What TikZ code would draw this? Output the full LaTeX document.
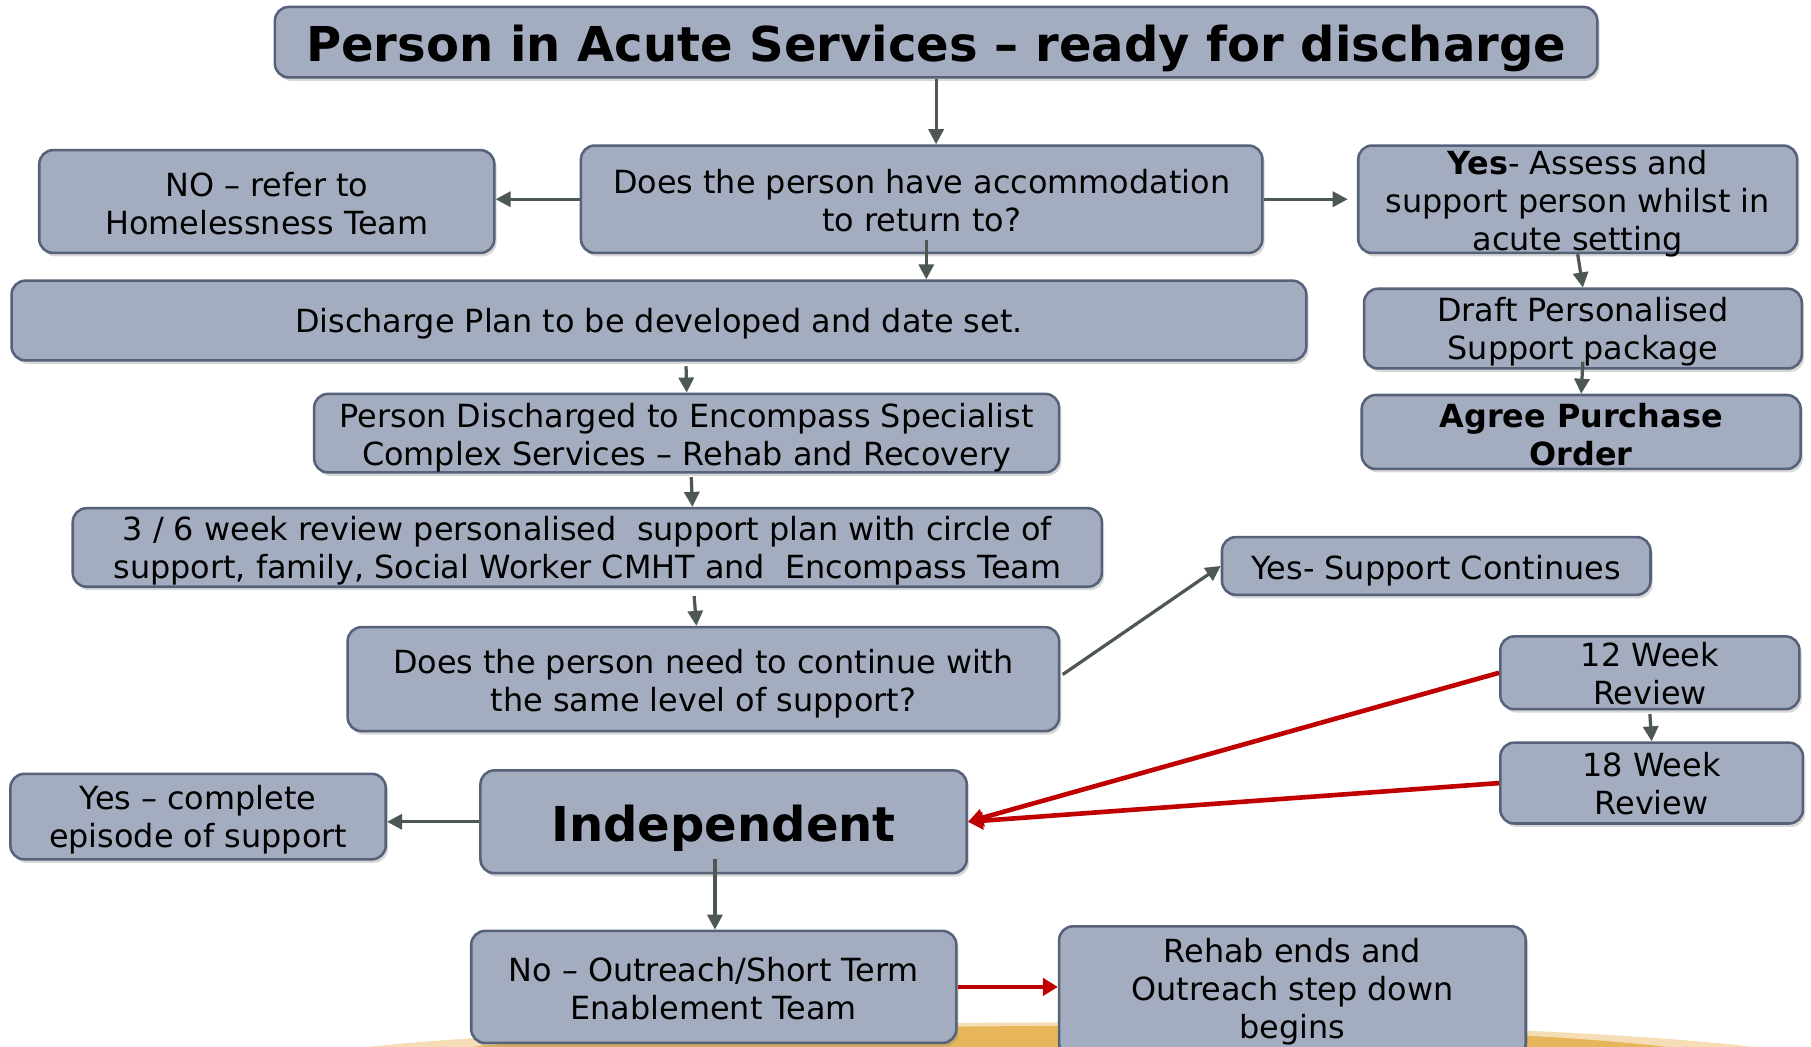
\documentclass[tikz,border=0pt]{standalone}
\usepackage{fontspec}
\setmainfont{DejaVu Sans}
\usetikzlibrary{arrows.meta,shadows,calc}
\definecolor{boxfill}{HTML}{A4ACBF}
\definecolor{boxline}{HTML}{56617A}
\definecolor{arrgray}{HTML}{4D5753}
\definecolor{arrred}{HTML}{C00000}
\definecolor{gold}{HTML}{E8B65A}
\begin{document}
\begin{tikzpicture}[x=0.5pt,y=-0.5pt,
  box/.style={draw=boxline, line width=1.1pt, fill=boxfill, rounded corners=6pt,
    inner sep=0pt,
    drop shadow={shadow xshift=1pt, shadow yshift=-1.5pt, opacity=0.3}},
  txt/.style={align=center, inner sep=0pt, font=\fontsize{13.8}{16.5}\selectfont},
  bigtxt/.style={align=center, inner sep=0pt, font=\fontsize{20.8}{25}\selectfont\bfseries},
  garr/.style={draw=arrgray, line width=1.4pt, -{Triangle[width=6.5pt,length=6.5pt]}},
  rarr/.style={draw=arrred, line width=2pt, -{Triangle[width=7.5pt,length=6.5pt]}}]
\useasboundingbox (0,0) rectangle (1568,906);
\clip (0,0) rectangle (1568,906);
\fill[white] (0,0) rectangle (1568,906);
\fill[gold!45!white] (290,910) .. controls (500,880) and (1300,874) .. (1545,910) -- cycle;
\fill[gold] (380,910) .. controls (560,884) and (1260,878) .. (1470,910) -- cycle;

% boxes
\node[box, minimum width=572.5pt, minimum height=30.5pt] (title) at (810.5,36.5) {};
\node[box, minimum width=197pt, minimum height=44.5pt] (no) at (231,174.5) {};
\node[box, minimum width=295pt, minimum height=46.5pt] (q1) at (798,172.5) {};
\node[box, minimum width=190pt, minimum height=46.5pt] (yes) at (1366,172.5) {};
\node[box, minimum width=560.5pt, minimum height=34.5pt] (dis) at (570.5,277.5) {};
\node[box, minimum width=189.5pt, minimum height=34.5pt] (draft) at (1370.5,284.5) {};
\node[box, minimum width=190pt, minimum height=32pt] (agree) at (1369,374) {};
\node[box, minimum width=322.5pt, minimum height=34pt] (pd) at (594.5,375) {};
\node[box, minimum width=445.5pt, minimum height=34pt] (w36) at (508.5,474) {};
\node[box, minimum width=185.5pt, minimum height=25pt] (ysc) at (1243.5,490) {};
\node[box, minimum width=308pt, minimum height=45pt] (q2) at (609,588) {};
\node[box, minimum width=129.5pt, minimum height=31.5pt] (w12) at (1428.5,582.5) {};
\node[box, minimum width=131pt, minimum height=35pt] (w18) at (1430,678) {};
\node[box, minimum width=162.5pt, minimum height=37pt] (yc) at (171.5,707) {};
\node[box, minimum width=210.5pt, minimum height=44.5pt] (ind) at (626.5,711.5) {};
\node[box, minimum width=210pt, minimum height=48.5pt] (no2) at (618,854.5) {};
\node[box, minimum width=202pt, minimum height=56.5pt] (rehab) at (1119,858.5) {};

% texts
\node[bigtxt] (title-t) at ([yshift=-2.5pt]title.center) {Person in Acute Services – ready for discharge};
\node[txt] (no-t) at ([yshift=-0.75pt]no.center) {NO – refer to\\Homelessness Team};
\node[txt] (q1-t) at ([yshift=-0.5pt]q1.center) {Does the person have accommodation\\to return to?};
\node[txt] (yes-t) at ([yshift=-2pt]yes.center) {\textbf{Yes}- Assess and\\support person whilst in\\acute setting};
\node[txt] (dis-t) at ([yshift=-1.5pt]dis.center) {Discharge Plan to be developed and date set.};
\node[txt] (draft-t) at ([yshift=-1.5pt]draft.center) {Draft Personalised\\Support package};
\node[txt, font=\fontsize{13.8}{16.5}\selectfont\bfseries] (agree-t) at ([yshift=-1pt]agree.center) {Agree Purchase\\Order};
\node[txt] (pd-t) at ([yshift=-2pt]pd.center) {Person Discharged to Encompass Specialist\\Complex Services – Rehab and Recovery};
\node[txt] (w36-t) at ([yshift=-1.5pt]w36.center) {3 / 6 week review personalised\ \ support plan with circle of\\support, family, Social Worker CMHT and\ \ Encompass Team};
\node[txt] (ysc-t) at ([yshift=-2pt]ysc.center) {Yes- Support Continues};
\node[txt] (q2-t) at ([yshift=-2pt]q2.center) {Does the person need to continue with\\the same level of support?};
\node[txt] (w12-t) at ([yshift=-0.5pt]w12.center) {12 Week\\Review};
\node[txt] (w18-t) at ([yshift=-0.25pt]w18.center) {18 Week\\Review};
\node[txt] (yc-t) at ([yshift=-1.25pt]yc.center) {Yes – complete\\episode of support};
\node[bigtxt] (ind-t) at ([yshift=-3pt]ind.center) {Independent};
\node[txt] (no2-t) at ([yshift=-0.75pt]no2.center) {No – Outreach/Short Term\\Enablement Team};
\node[txt] (rehab-t) at ([yshift=0pt]rehab.center) {Rehab ends and\\Outreach step down\\begins};

% connectors
\draw[garr] (title.south) -- (title.south |- q1.north);
\draw[garr] (q1.west) -- (q1.west -| no.east);
\draw[garr, shorten >=4pt] (q1.east) -- (q1.east -| yes.west);
\draw[garr] ([xshift=2pt,yshift=6pt]q1.south) -- ([xshift=2pt]q1.south |- dis.north);
\draw[garr] (yes.south) -- (draft.north);
\draw[garr] ([yshift=3.5pt]draft.south) -- (agree.north);
\draw[garr] ([xshift=11.75pt,yshift=-2pt]dis.south) -- (pd.north);
\draw[garr] ([xshift=2pt,yshift=-1.5pt]pd.south) -- ([xshift=2.5pt]pd.south |- w36.north);
\draw[garr] ([xshift=46.25pt,yshift=-3.5pt]w36.south) -- ([xshift=-3pt]q2.north);
\draw[garr] ([xshift=1pt,yshift=2pt]q2.east) -- (ysc.west);
\draw[rarr] (w12.west) -- (ind.east);
\draw[rarr] (w18.west) -- (ind.east);
\draw[garr] (ind.west) -- (ind.west -| yc.east);
\draw[garr] ([xshift=0.5pt,yshift=6.5pt]no2.north |- ind.south) -- ([xshift=0.5pt]no2.north);
\draw[garr] ([yshift=-1.5pt]w12.south) -- (w18.north);
\draw[rarr] (no2.east) -- (no2.east -| rehab.west);
\end{tikzpicture}
\end{document}
